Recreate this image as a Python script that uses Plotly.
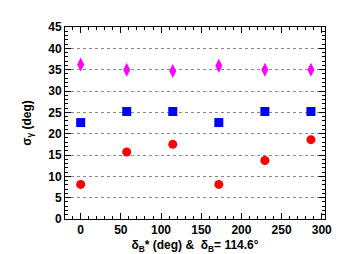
import plotly.graph_objects as go

x_vals = [0, 57.3, 114.6, 171.9, 229.2, 286.5]
magenta_vals = [36.2, 35.0, 34.7, 35.9, 35.0, 35.0]
blue_vals = [22.6, 25.2, 25.2, 22.6, 25.2, 25.2]
red_vals = [8.1, 15.7, 17.5, 8.1, 13.7, 18.6]

fig = go.Figure()
fig.add_trace(go.Scatter(x=x_vals, y=magenta_vals, mode="markers",
                         marker=dict(symbol="diamond-tall", size=10, color="#ff00ff")))
fig.add_trace(go.Scatter(x=x_vals, y=blue_vals, mode="markers",
                         marker=dict(symbol="square", size=9, color="#0000ff")))
fig.add_trace(go.Scatter(x=x_vals, y=red_vals, mode="markers",
                         marker=dict(symbol="circle", size=9, color="#ff0000")))

font = dict(family="Liberation Sans, Arial, sans-serif", size=12, color="black", weight="bold")

fig.update_layout(
    width=353, height=254,
    margin=dict(l=57, r=36, t=13, b=41),
    plot_bgcolor="white", paper_bgcolor="white",
    showlegend=False,
    font=font,
)
fig.update_xaxes(
    range=[-19.5, 304], showgrid=False, zeroline=False,
    showline=True, linecolor="black", linewidth=1, mirror="ticks",
    ticks="inside", ticklen=6, tickcolor="black", dtick=50, tick0=0,
    minor=dict(ticks="inside", ticklen=3, dtick=10, tickcolor="black"),
    tickfont=font,
    title=dict(text="δ<sub>B</sub>* (deg) &  δ<sub>B</sub>= 114.6°", font=font, standoff=4),
)
fig.update_yaxes(
    range=[0, 45], showgrid=True, gridcolor="#888888", griddash="dot", gridwidth=1,
    zeroline=False,
    showline=True, linecolor="black", linewidth=1, mirror="ticks",
    ticks="inside", ticklen=6, tickcolor="black", dtick=5, tick0=0,
    minor=dict(ticks="inside", ticklen=3, dtick=1, tickcolor="black", showgrid=False),
    tickfont=font,
    title=dict(text="σ<sub>γ</sub> (deg)", font=font, standoff=14),
)
fig.write_html("out.html")
